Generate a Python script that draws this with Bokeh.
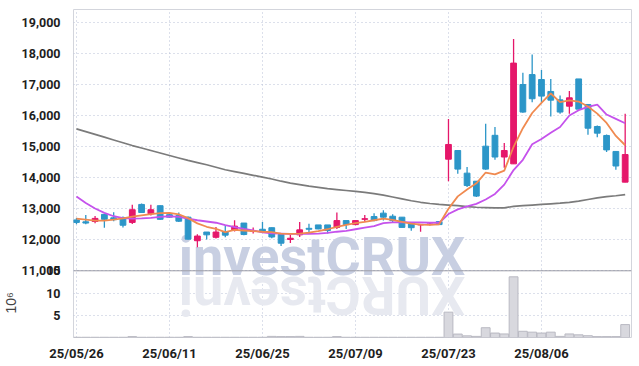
from math import pi
from bokeh.plotting import figure
from bokeh.models import (Range1d, FixedTicker, CustomJSTickFormatter, Span, Label, Title,
                          ColumnDataSource)
from bokeh.embed import file_html
from bokeh.resources import INLINE

# ---------------- data ----------------
dates = ["25/05/26", "25/05/27", "25/05/28", "25/05/29", "25/05/30", "25/06/02", "25/06/04",
         "25/06/05", "25/06/09", "25/06/10", "25/06/11", "25/06/12", "25/06/13", "25/06/16",
         "25/06/17", "25/06/18", "25/06/19", "25/06/20", "25/06/23", "25/06/24", "25/06/25",
         "25/06/26", "25/06/27", "25/06/30", "25/07/01", "25/07/02", "25/07/03", "25/07/04",
         "25/07/07", "25/07/08", "25/07/09", "25/07/10", "25/07/11", "25/07/14", "25/07/15",
         "25/07/16", "25/07/17", "25/07/18", "25/07/21", "25/07/22", "25/07/23", "25/07/24",
         "25/07/25", "25/07/28", "25/07/29", "25/07/30", "25/07/31", "25/08/01", "25/08/04",
         "25/08/05", "25/08/06", "25/08/07", "25/08/08", "25/08/11", "25/08/12", "25/08/13",
         "25/08/14", "25/08/18", "25/08/19", "25/08/20"]

opens = [12640, 12580, 12590, 12820, 12710, 12720, 12560, 13140, 12840, 13100,
         12810, 12780, 12730, 11970, 12250, 12080, 12250, 12300, 12540, 12270,
         12340, 12390, 12170, 12010, 12160, 12370, 12480, 12480, 12400, 12620,
         12490, 12660, 12750, 12860, 12760, 12730, 12540, 12480, 12490, 12590,
         14600, 14880, 14150, 13890, 15020, 15370, 14670, 14450, 17010, 17330,
         17170, 16785, 16515, 16310, 17190, 16365, 15655, 15365, 14850, 13860]
highs = [12700, 12800, 12770, 12830, 12890, 12750, 13130, 13170, 13130, 13110,
         12880, 12880, 12750, 12180, 12250, 12410, 12460, 12630, 12540, 12400,
         12570, 12400, 12170, 12160, 12570, 12520, 12480, 12480, 12880, 12620,
         12640, 12800, 12860, 12950, 12820, 12730, 12540, 12510, 12560, 12590,
         15900, 14880, 14345, 13900, 15740, 15635, 15120, 18480, 17390, 17980,
         17480, 17190, 16655, 16800, 17190, 16365, 15690, 15400, 14850, 16065]
lows = [12500, 12500, 12530, 12390, 12600, 12400, 12510, 12870, 12780, 12650,
        12700, 12570, 12010, 11760, 12010, 12040, 12080, 12270, 12150, 12200,
        12220, 12050, 11800, 11900, 12090, 12190, 12340, 12200, 12350, 12350,
        12470, 12580, 12600, 12620, 12540, 12400, 12290, 12260, 12460, 12480,
        13890, 14130, 13700, 13380, 14260, 14580, 14320, 14450, 16100, 16440,
        16440, 15980, 16065, 16065, 16215, 15390, 15310, 14830, 14260, 13860]
closes = [12560, 12540, 12690, 12660, 12650, 12470, 12970, 12880, 12970, 12660,
          12730, 12600, 12020, 12120, 12160, 12250, 12150, 12440, 12170, 12300,
          12260, 12090, 11890, 12050, 12320, 12340, 12350, 12300, 12620, 12490,
          12620, 12680, 12620, 12730, 12620, 12400, 12390, 12500, 12510, 12490,
          15075, 14280, 13750, 13410, 14280, 14670, 14880, 17700, 16120, 16550,
          16635, 16505, 16120, 16580, 16215, 15600, 15440, 14900, 14380, 14750]
volumes = [0.05, 0.05, 0.05, 0.05, 0.05, 0.05, 0.2, 0.05, 0.05, 0.05,
           0.05, 0.05, 0.2, 0.05, 0.05, 0.05, 0.05, 0.05, 0.05, 0.05,
           0.05, 0.25, 0.2, 0.2, 0.25, 0.05, 0.05, 0.05, 0.2, 0.05,
           0.05, 0.05, 0.05, 0.05, 0.05, 0.05, 0.05, 0.05, 0.05, 0.05,
           5.7, 0.77, 0.37, 0.25, 2.2, 1.0, 0.8, 13.65, 1.4, 1.2,
           1.0, 1.2, 0.25, 0.8, 0.6, 0.4, 0.2, 0.2, 0.2, 2.9]
ma_short = [12680, 12650, 12620, 12620, 12650, 12690, 12750, 12790, 12830, 12860,
            12870, 12820, 12700, 12530, 12420, 12350, 12250, 12320, 12300, 12280,
            12260, 12250, 12200, 12190, 12200, 12230, 12280, 12340, 12420, 12480,
            12540, 12580, 12630, 12680, 12640, 12580, 12520, 12490, 12480, 12500,
            13000, 13400, 13620, 13820, 14170, 14110, 14230, 15000, 15600, 16090,
            16420, 16720, 16440, 16500, 16460, 16300, 16070, 15770, 15350, 15050]
ma_mid = [13400, 13190, 13010, 12870, 12760, 12700, 12680, 12690, 12710, 12740,
          12760, 12740, 12680, 12630, 12590, 12550, 12470, 12410, 12350, 12300,
          12240, 12210, 12200, 12190, 12190, 12190, 12200, 12220, 12260, 12290,
          12340, 12390, 12440, 12540, 12560, 12570, 12560, 12560, 12550, 12550,
          12830, 12980, 13080, 13160, 13300, 13480, 13780, 14250, 14580, 15080,
          15250, 15450, 15640, 16010, 16180, 16290, 16360, 16040, 15900, 15760]
ma_long = [15580, 15490, 15400, 15310, 15220, 15130, 15040, 14960, 14880, 14800,
           14720, 14640, 14560, 14490, 14420, 14340, 14260, 14200, 14140, 14080,
           14020, 13960, 13890, 13830, 13780, 13730, 13690, 13650, 13620, 13590,
           13560, 13530, 13490, 13440, 13380, 13320, 13260, 13210, 13170, 13140,
           13120, 13100, 13070, 13050, 13040, 13030, 13030, 13080, 13100, 13120,
           13140, 13160, 13180, 13210, 13250, 13300, 13350, 13390, 13420, 13460]
price_ticks = [11000, 12000, 13000, 14000, 15000, 16000, 17000, 18000, 19000]
volume_ticks = [5, 10, 15]
date_tick_idx = [0, 10, 20, 30, 40, 50]

# ---------------- layout constants ----------------
P_LO, P_HI = 8848, 19429          # price range of whole frame
SEP = 11000                        # border between price and volume panes
VOL_UNIT = (SEP - 1 - P_LO) / 15.0 # price units per 1e6 shares
UP, DOWN = "#e5176a", "#2c96c8"
FONT = "Roboto"

idx = list(range(len(dates)))
colors = [UP if c >= o else DOWN for o, c in zip(opens, closes)]
src = ColumnDataSource(dict(
    x=idx, o=opens, h=highs, l=lows, c=closes,
    top=[max(o, c) for o, c in zip(opens, closes)],
    bot=[min(o, c) for o, c in zip(opens, closes)],
    col=colors, vol=volumes, m5=ma_short, m20=ma_mid, m60=ma_long))

p = figure(width=639, height=366, x_range=Range1d(-0.32, 59.68),
           y_range=Range1d(P_LO, P_HI), output_backend="svg", toolbar_location=None,
           min_border_left=67, min_border_right=8, min_border_top=9, min_border_bottom=29)
p.extra_y_ranges = {"vol": Range1d(0, (P_HI - P_LO) / VOL_UNIT)}
p.background_fill_color = "white"
p.border_fill_color = "white"
p.outline_line_color = "#d3d5dc"

# axes
yt = price_ticks + [P_LO + v * VOL_UNIT for v in volume_ticks]
p.yaxis.ticker = FixedTicker(ticks=yt)
p.yaxis.formatter = CustomJSTickFormatter(args=dict(lo=P_LO, unit=VOL_UNIT, sep=SEP), code="""
    if (tick >= sep - 0.05) {
        return Math.round(tick).toString().replace(/\\B(?=(\\d{3})+(?!\\d))/g, ",");
    }
    return String(Math.round((tick - lo) / unit));
""")
p.xaxis.ticker = FixedTicker(ticks=date_tick_idx)
p.xaxis.major_label_overrides = {i: dates[i] for i in date_tick_idx}
for ax in (p.xaxis[0], p.yaxis[0]):
    ax.axis_line_color = None
    ax.major_tick_line_color = None
    ax.minor_tick_line_color = None
    ax.major_label_text_font = FONT
    ax.major_label_text_font_style = "bold"
    ax.major_label_text_color = "#1e1e1e"
p.yaxis.major_label_text_font_size = "12.5px"
p.yaxis.major_label_standoff = 7
p.xaxis.major_label_text_font_size = "13px"
p.xaxis.major_label_standoff = 2

for g in (p.xgrid[0], p.ygrid[0]):
    g.grid_line_color = "#b9c1d6"
    g.grid_line_dash = "1 3"
    g.grid_line_width = 1

# volume unit label
p.add_layout(Title(text="10⁶", align="left", offset=24, standoff=0,
                   text_font="Liberation Sans", text_font_size="14px",
                   text_font_style="normal", text_color="#444444"), "left")

# watermark
p.add_layout(Label(x=26.4, y=11466, text="investCRUX", text_font=FONT, text_font_size="54px",
                   text_font_style="bold", text_color="#c8cfe2", text_align="center",
                   text_baseline="alphabetic", level="underlay"))
p.add_layout(Label(x=26.4, y=11203, text="XURCtsevni", angle=pi, text_font=FONT,
                   text_font_size="54px", text_font_style="bold", text_color="#e7e9f0",
                   text_align="center", text_baseline="bottom", level="underlay"))

# volume
p.vbar(x="x", top="vol", bottom=0, width=0.95, source=src, y_range_name="vol",
       fill_color="#d8d8de", line_color="#b9b9c2", line_width=1)

# candles
p.segment(x0="x", y0="l", x1="x", y1="h", color="col", line_width=1.3, source=src)
p.vbar(x="x", top="top", bottom="bot", width=0.62, fill_color="col", line_color="col",
       line_width=1, source=src)

# moving averages
p.line("x", "m60", source=src, color="#7b7b7b", line_width=1.7)
p.line("x", "m20", source=src, color="#c552ec", line_width=1.8)
p.line("x", "m5", source=src, color="#f08a50", line_width=1.8)

p.add_layout(Span(location=SEP, dimension="width", line_color="#9c9ca6", line_width=1))

open("out.html", "w").write(file_html(p, INLINE))
